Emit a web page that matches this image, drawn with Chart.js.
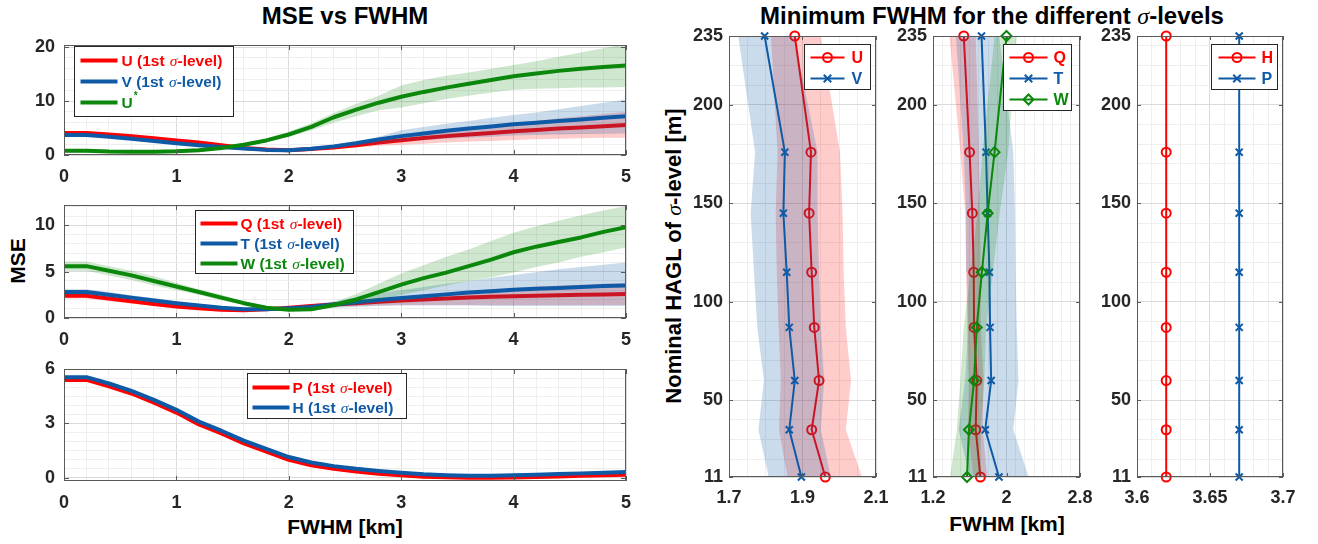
<!DOCTYPE html>
<html>
<head>
<meta charset="utf-8">
<script src="https://cdn.jsdelivr.net/npm/chart.js@4.4.1/dist/chart.umd.min.js"></script>
<style>
  html, body { margin: 0; padding: 0; background: #fff; }
  body { width: 1318px; height: 544px; position: relative; overflow: hidden;
         font-family: "Liberation Sans", Arial, Helvetica, sans-serif; }
  canvas { position: absolute; }
  .lbl { position: absolute; font-weight: bold; color: #000; white-space: nowrap;
         transform: translate(-50%, -50%); line-height: 1; }
  .rot { transform: translate(-50%, -50%) rotate(-90deg); }
  .sig { font-family: "Liberation Serif", "DejaVu Serif", serif; font-style: italic; font-weight: normal; }
</style>
</head>
<body>
<div class="lbl" style="left:345px;top:16px;font-size:24px;">MSE vs FWHM</div>
<div class="lbl" style="left:992px;top:16px;font-size:24px;">Minimum FWHM for the different <span class="sig">σ</span>-levels</div>
<div class="lbl rot" style="left:17px;top:261px;font-size:21px;">MSE</div>
<div class="lbl" style="left:345px;top:526px;font-size:21px;">FWHM [km]</div>
<div class="lbl" style="left:1007px;top:523px;font-size:21px;">FWHM [km]</div>
<div class="lbl rot" style="left:674px;top:256px;font-size:22px;">Nominal HAGL of <span class="sig">σ</span>-level [m]</div>

<script>
// ---------- MSE as a function of the smoothing FWHM [km] ----------
const fwhm = [0, 0.2, 0.4, 0.6, 0.8, 1.0, 1.2, 1.4, 1.6, 1.8, 2.0, 2.2, 2.4,
              2.6, 2.8, 3.0, 3.2, 3.4, 3.6, 3.8, 4.0, 4.2, 4.4, 4.6, 4.8, 5.0];

// U, V and U* (top panel)
const mseU    = [4.1, 4.1, 3.8, 3.5, 3.1, 2.7, 2.3, 1.8, 1.3, 1.0, 0.9, 1.1, 1.4, 1.8, 2.3, 2.75, 3.15, 3.5, 3.8, 4.1, 4.4, 4.65, 4.9, 5.1, 5.35, 5.55];
const mseUHi  = [4.4, 4.4, 4.1, 3.75, 3.35, 2.9, 2.5, 1.95, 1.45, 1.1, 1.0, 1.25, 1.65, 2.1, 2.7, 3.4, 3.9, 4.4, 4.9, 5.4, 5.9, 6.3, 6.8, 7.2, 7.6, 8.0];
const mseULo  = [3.8, 3.8, 3.5, 3.25, 2.85, 2.5, 2.1, 1.65, 1.15, 0.9, 0.8, 0.95, 1.15, 1.4, 1.7, 1.9, 2.1, 2.3, 2.5, 2.6, 2.8, 2.9, 3.0, 3.1, 3.2, 3.2];
const mseV    = [3.7, 3.7, 3.4, 3.0, 2.6, 2.2, 1.8, 1.5, 1.2, 0.95, 0.9, 1.15, 1.6, 2.2, 2.9, 3.5, 4.0, 4.5, 4.9, 5.3, 5.7, 6.0, 6.3, 6.6, 6.9, 7.2];
const mseVHi  = [4.0, 4.0, 3.65, 3.25, 2.8, 2.4, 1.95, 1.6, 1.3, 1.05, 1.0, 1.35, 1.9, 2.6, 3.4, 4.6, 5.2, 5.8, 6.3, 6.9, 7.4, 7.9, 8.5, 9.1, 9.7, 10.3];
const mseVLo  = [3.4, 3.4, 3.15, 2.75, 2.4, 2.0, 1.65, 1.4, 1.1, 0.85, 0.8, 1.0, 1.3, 1.7, 2.1, 2.5, 2.8, 3.0, 3.2, 3.4, 3.6, 3.7, 3.8, 3.9, 4.0, 4.1];
const mseUs   = [0.8, 0.8, 0.65, 0.6, 0.6, 0.7, 0.9, 1.3, 1.9, 2.7, 3.8, 5.2, 7.0, 8.4, 9.7, 10.8, 11.7, 12.5, 13.2, 13.9, 14.6, 15.1, 15.6, 16.0, 16.3, 16.6];
const mseUsHi = [1.1, 1.1, 0.95, 0.9, 0.9, 1.0, 1.2, 1.6, 2.2, 3.1, 4.3, 5.9, 7.8, 9.5, 11.0, 12.9, 13.9, 14.7, 15.3, 16.0, 16.7, 17.4, 18.2, 19.0, 19.8, 20.6];
const mseUsLo = [0.5, 0.5, 0.35, 0.3, 0.3, 0.4, 0.6, 1.0, 1.6, 2.4, 3.4, 4.6, 6.0, 7.2, 8.3, 8.8, 9.6, 10.4, 11.0, 11.6, 12.1, 12.3, 12.4, 12.5, 12.5, 12.6];

// Q, T and W (middle panel)
const mseQ    = [2.4, 2.4, 2.1, 1.8, 1.5, 1.25, 1.05, 0.9, 0.85, 0.95, 1.1, 1.3, 1.45, 1.6, 1.75, 1.9, 2.0, 2.1, 2.2, 2.3, 2.35, 2.4, 2.45, 2.5, 2.55, 2.6];
const mseQHi  = [2.7, 2.7, 2.4, 2.05, 1.75, 1.45, 1.2, 1.0, 0.95, 1.05, 1.25, 1.5, 1.7, 1.9, 2.1, 2.3, 2.5, 2.7, 2.9, 3.1, 3.25, 3.4, 3.5, 3.6, 3.7, 3.8];
const mseQLo  = [2.1, 2.1, 1.8, 1.55, 1.3, 1.05, 0.9, 0.8, 0.75, 0.85, 0.95, 1.1, 1.2, 1.3, 1.35, 1.4, 1.4, 1.4, 1.4, 1.4, 1.4, 1.4, 1.4, 1.4, 1.4, 1.4];
const mseT    = [2.8, 2.8, 2.5, 2.2, 1.9, 1.6, 1.35, 1.1, 0.95, 0.95, 1.05, 1.2, 1.45, 1.7, 1.95, 2.15, 2.35, 2.55, 2.75, 2.9, 3.05, 3.15, 3.25, 3.35, 3.45, 3.5];
const mseTHi  = [3.1, 3.1, 2.8, 2.45, 2.15, 1.8, 1.5, 1.25, 1.05, 1.05, 1.2, 1.45, 1.8, 2.2, 2.65, 3.0, 3.35, 3.7, 4.0, 4.35, 4.65, 4.95, 5.25, 5.5, 5.75, 6.0];
const mseTLo  = [2.5, 2.5, 2.25, 1.95, 1.65, 1.4, 1.2, 0.95, 0.85, 0.85, 0.9, 1.0, 1.1, 1.2, 1.3, 1.35, 1.35, 1.35, 1.35, 1.3, 1.3, 1.3, 1.3, 1.3, 1.3, 1.3];
const mseW    = [5.6, 5.6, 5.1, 4.6, 4.0, 3.4, 2.8, 2.2, 1.6, 1.1, 0.9, 0.95, 1.4, 2.0, 2.8, 3.6, 4.3, 4.9, 5.6, 6.3, 7.1, 7.7, 8.2, 8.7, 9.3, 9.8];
const mseWHi  = [6.1, 6.1, 5.6, 5.1, 4.5, 3.8, 3.1, 2.5, 1.8, 1.2, 1.0, 1.1, 1.7, 2.6, 3.7, 4.8, 5.7, 6.6, 7.4, 8.3, 9.2, 9.9, 10.5, 11.1, 11.6, 12.1];
const mseWLo  = [5.1, 5.1, 4.6, 4.1, 3.5, 3.0, 2.5, 1.9, 1.4, 1.0, 0.8, 0.8, 1.1, 1.5, 2.0, 2.5, 3.0, 3.5, 4.0, 4.4, 4.9, 5.5, 6.0, 6.6, 7.1, 7.6];

// P and H (bottom panel)
const mseP    = [5.4, 5.4, 5.05, 4.65, 4.15, 3.6, 2.95, 2.45, 1.9, 1.45, 1.0, 0.7, 0.5, 0.35, 0.23, 0.14, 0.07, 0.03, 0.01, 0.01, 0.02, 0.05, 0.08, 0.12, 0.15, 0.18];
const mseH    = [5.55, 5.55, 5.2, 4.8, 4.3, 3.75, 3.1, 2.6, 2.05, 1.6, 1.15, 0.85, 0.65, 0.5, 0.38, 0.28, 0.2, 0.15, 0.12, 0.12, 0.14, 0.17, 0.21, 0.25, 0.29, 0.33];

// ---------- Minimum FWHM [km] per sigma-level ----------
const levels = [11, 35, 60, 87, 115, 145, 176, 235];   // nominal HAGL [m]

const minU   = [1.962, 1.925, 1.945, 1.932, 1.925, 1.918, 1.923, 1.879];
const minUHi = [2.062, 2.018, 2.032, 2.018, 2.012, 2.009, 2.002, 1.950];
const minULo = [1.859, 1.836, 1.841, 1.835, 1.830, 1.827, 1.832, 1.814];
const minV   = [1.897, 1.864, 1.879, 1.864, 1.857, 1.848, 1.852, 1.797];
const minVHi = [1.977, 1.950, 1.959, 1.950, 1.945, 1.941, 1.941, 1.877];
const minVLo = [1.808, 1.780, 1.795, 1.777, 1.768, 1.759, 1.771, 1.725];

const minQ   = [1.716, 1.665, 1.676, 1.647, 1.643, 1.628, 1.598, 1.535];
const minQHi = [1.790, 1.740, 1.750, 1.720, 1.720, 1.710, 1.700, 1.665];
const minQLo = [1.640, 1.580, 1.590, 1.572, 1.560, 1.550, 1.498, 1.379];
const minT   = [1.918, 1.769, 1.833, 1.821, 1.814, 1.795, 1.777, 1.728];
const minTHi = [2.240, 2.074, 2.130, 2.112, 2.100, 2.093, 2.074, 1.920];
const minTLo = [1.600, 1.479, 1.550, 1.583, 1.570, 1.560, 1.535, 1.449];
const minW   = [1.570, 1.591, 1.647, 1.676, 1.732, 1.795, 1.870, 2.000];
const minWHi = [1.720, 1.720, 1.758, 1.777, 1.851, 1.926, 2.018, 2.112];
const minWLo = [1.386, 1.460, 1.498, 1.535, 1.609, 1.684, 1.740, 1.870];

const minH   = [3.62, 3.62, 3.62, 3.62, 3.62, 3.62, 3.62, 3.62];
const minP   = [3.67, 3.67, 3.67, 3.67, 3.67, 3.67, 3.67, 3.67];

// ---------- axis ticks ----------
const fwhmTicks   = [0, 1, 2, 3, 4, 5];
const mseTicksUV  = [0, 10, 20];
const mseTicksQTW = [0, 5, 10];
const mseTicksPH  = [0, 3, 6];
const levelTicks  = [11, 50, 100, 150, 200, 235];
const minTicksUV  = [1.7, 1.9, 2.1];
const minTicksQTW = [1.2, 2, 2.8];
const minTicksHP  = [3.6, 3.65, 3.7];

// ---------- styling ----------
const RED = '#ff0000', BLUE = '#0f5aa6', GREEN = '#0b870b';
const RED_A = 'rgba(255,0,0,0.2)', BLUE_A = 'rgba(15,90,166,0.22)', GREEN_A = 'rgba(11,135,11,0.2)';
const TICK_FONT = { family: '"Liberation Sans", Arial, Helvetica, sans-serif', size: 18, weight: 'bold' };
const TICK_COLOR = '#262626';

// ---------- helpers ----------
const pts  = (xs, ys) => xs.map((x, i) => ({ x, y: ys[i] }));
const hband = (xs, lo, hi) => pts(xs, hi).concat(pts(xs, lo).reverse());
const vband = (lo, hi, ys) => pts(lo, ys).concat(pts(hi, ys).reverse());

// Lower "order" is painted later (on top). Each series paints its band, then its line,
// series after series, so a later band tints the earlier lines.
function curve(label, data, color, width, order, extra) {
  return Object.assign({ label, data, borderColor: color, backgroundColor: color, borderWidth: width,
    showLine: true, pointRadius: 0, fill: false, order, borderJoinStyle: 'round' }, extra || {});
}
function area(data, color, order) {
  return { label: '', data, showLine: true, borderWidth: 0, borderColor: 'rgba(0,0,0,0)',
    backgroundColor: color, pointRadius: 0, fill: 'shape', order, inLegend: false };
}

function axis(pos, min, max, step, majors, padding, fitSize) {
  const near = (a, b) => Math.abs(a - b) < 1e-7;
  const isMajor = v => majors.some(m => near(m, v));
  return {
    type: 'linear', position: pos, min, max,
    afterBuildTicks: s => {
      const vals = majors.slice();
      for (let v = Math.ceil(min / step - 1e-9) * step; v <= max + 1e-9; v += step) {
        const r = +v.toFixed(6);
        if (!vals.some(m => near(m, r))) vals.push(r);
      }
      vals.sort((a, b) => a - b);
      s.ticks = vals.map(value => ({ value }));
    },
    afterFit: s => { if (pos === 'left') s.width = fitSize; else s.height = fitSize; },
    ticks: { autoSkip: false, maxRotation: 0, padding, color: TICK_COLOR, font: TICK_FONT,
             callback: v => isMajor(v) ? String(majors.find(m => near(m, v))) : '' },
    grid: { drawTicks: false, color: c => (c.tick && isMajor(c.tick.value)) ? '#dadada' : '#eeeeee', lineWidth: 1 },
    border: { display: false },
    _majors: majors
  };
}

// Axes box with inward tick marks on all four sides
const framePlugin = {
  id: 'frame',
  afterDatasetsDraw(chart, args, opts) {
    const { ctx, chartArea: a, scales } = chart;
    ctx.save();
    ctx.strokeStyle = '#5a5a5a';
    ctx.lineWidth = 1;
    ctx.strokeRect(Math.round(a.left) + 0.5, Math.round(a.top) + 0.5,
                   Math.round(a.right - a.left) - 1, Math.round(a.bottom - a.top) - 1);
    const L = opts.tick || 5;
    ctx.beginPath();
    scales.x.options._majors.forEach(m => {
      const px = Math.round(scales.x.getPixelForValue(m)) + 0.5;
      ctx.moveTo(px, a.bottom); ctx.lineTo(px, a.bottom - L);
      ctx.moveTo(px, a.top); ctx.lineTo(px, a.top + L);
    });
    scales.y.options._majors.forEach(m => {
      const py = Math.round(scales.y.getPixelForValue(m)) + 0.5;
      ctx.moveTo(a.left, py); ctx.lineTo(a.left + L, py);
      ctx.moveTo(a.right, py); ctx.lineTo(a.right - L, py);
    });
    ctx.stroke();
    ctx.restore();
  }
};

function drawMarker(ctx, style, x, y, r, color, lw) {
  ctx.save();
  ctx.strokeStyle = color; ctx.lineWidth = lw;
  ctx.beginPath();
  if (style === 'circle') { ctx.arc(x, y, r, 0, Math.PI * 2); }
  else if (style === 'crossRot') { const d = r * 0.75; ctx.moveTo(x - d, y - d); ctx.lineTo(x + d, y + d); ctx.moveTo(x + d, y - d); ctx.lineTo(x - d, y + d); }
  else if (style === 'rectRot') { ctx.moveTo(x, y - r); ctx.lineTo(x + r, y); ctx.lineTo(x, y + r); ctx.lineTo(x - r, y); ctx.closePath(); }
  ctx.stroke();
  ctx.restore();
}

// Boxed legend drawn inside the plot area, text coloured like its line
const boxLegendPlugin = {
  id: 'boxLegend',
  afterDraw(chart, args, o) {
    if (!o || !o.w) return;
    const { ctx, chartArea: a } = chart;
    const bx = Math.round(a.left + o.x) + 0.5, by = Math.round(a.top + o.y) + 0.5;
    ctx.save();
    ctx.fillStyle = '#fff';
    ctx.fillRect(bx, by, o.w, o.h);
    ctx.strokeStyle = '#262626'; ctx.lineWidth = 1;
    ctx.strokeRect(bx, by, o.w, o.h);
    const items = chart.data.datasets.filter(d => d.inLegend !== false);
    items.sort((p, q) => (p.legendIndex || 0) - (q.legendIndex || 0));
    const bold = sz => `bold ${sz}px "Liberation Sans", Arial, sans-serif`;
    items.forEach((d, i) => {
      const y = by + o.rows[i];
      ctx.strokeStyle = d.borderColor; ctx.lineWidth = o.lineWidth || d.borderWidth;
      ctx.beginPath(); ctx.moveTo(bx + o.x0, y); ctx.lineTo(bx + o.x1, y); ctx.stroke();
      if (d.pointStyle && d.pointRadius > 0) drawMarker(ctx, d.pointStyle, bx + (o.x0 + o.x1) / 2, y, d.pointRadius, d.borderColor, d.pointBorderWidth || 2);
      let x = bx + o.tx;
      ctx.fillStyle = d.borderColor;
      ctx.textBaseline = 'middle'; ctx.textAlign = 'left';
      const parts = d.label.split('σ');
      parts.forEach((p, k) => {
        let txt = p, star = false;
        if (txt.endsWith('*')) { txt = txt.slice(0, -1); star = true; }
        ctx.font = bold(o.size);
        ctx.fillText(txt, x, y + 1); x += ctx.measureText(txt).width;
        if (star) { ctx.font = bold(Math.round(o.size * 0.62)); ctx.fillText('*', x + 1, y - o.size * 0.42); x += ctx.measureText('*').width + 1; }
        if (k < parts.length - 1) {
          ctx.font = `italic ${o.size}px "Liberation Serif", "DejaVu Serif", serif`;
          ctx.fillText('σ', x + 1, y + 1); x += ctx.measureText('σ').width + 1;
        }
      });
    });
    ctx.restore();
  }
};

function makeChart(rect, pad, xAx, yAx, datasets, legend, tickLen) {
  const c = document.createElement('canvas');
  c.width = rect.w + pad.l + pad.r;
  c.height = rect.h + pad.t + pad.b;
  c.style.left = (rect.x - pad.l) + 'px';
  c.style.top = (rect.y - pad.t) + 'px';
  document.body.appendChild(c);
  return new Chart(c, {
    type: 'scatter',
    data: { datasets },
    options: {
      responsive: false, animation: false, devicePixelRatio: 1, events: [],
      layout: { padding: { top: pad.t, right: pad.r, left: 0, bottom: 0 } },
      scales: { x: xAx, y: yAx },
      plugins: { legend: { display: false }, tooltip: { enabled: false },
                 boxLegend: legend, frame: { tick: tickLen } }
    },
    plugins: [framePlugin, boxLegendPlugin]
  });
}

// ---------- left column: MSE vs FWHM ----------
const padL = { l: 56, t: 24, r: 26, b: 34 };
const xFwhm = () => axis('bottom', 0, 5, 0.2, fwhmTicks, 11, padL.b);

makeChart({ x: 64, y: 45, w: 562, h: 110 }, padL, xFwhm(), axis('left', 0, 20.4, 2, mseTicksUV, 9, padL.l), [
  area(hband(fwhm, mseULo, mseUHi), RED_A, 6),
  curve('U (1st σ-level)', pts(fwhm, mseU), RED, 4, 5, { legendIndex: 0 }),
  area(hband(fwhm, mseVLo, mseVHi), BLUE_A, 4),
  curve('V (1st σ-level)', pts(fwhm, mseV), BLUE, 4, 3, { legendIndex: 1 }),
  area(hband(fwhm, mseUsLo, mseUsHi), GREEN_A, 2),
  curve('U*', pts(fwhm, mseUs), GREEN, 4, 1, { legendIndex: 2 })
], { x: 10, y: 1, w: 159, h: 70, rows: [14, 35, 56], x0: 6, x1: 43, tx: 47, size: 15.5 }, 5);

makeChart({ x: 64, y: 205, w: 562, h: 113 }, padL, xFwhm(), axis('left', 0, 12.2, 1, mseTicksQTW, 9, padL.l), [
  area(hband(fwhm, mseQLo, mseQHi), RED_A, 6),
  curve('Q (1st σ-level)', pts(fwhm, mseQ), RED, 4, 5, { legendIndex: 0 }),
  area(hband(fwhm, mseTLo, mseTHi), BLUE_A, 4),
  curve('T (1st σ-level)', pts(fwhm, mseT), BLUE, 4, 3, { legendIndex: 1 }),
  area(hband(fwhm, mseWLo, mseWHi), GREEN_A, 2),
  curve('W (1st σ-level)', pts(fwhm, mseW), GREEN, 4, 1, { legendIndex: 2 })
], { x: 131, y: 5, w: 158, h: 63, rows: [13, 33, 53], x0: 5, x1: 42, tx: 45, size: 15.5 }, 5);

makeChart({ x: 64, y: 369, w: 562, h: 112 }, padL, xFwhm(), axis('left', -0.17, 6, 0.5, mseTicksPH, 9, padL.l), [
  curve('P (1st σ-level)', pts(fwhm, mseP), RED, 4, 2, { legendIndex: 0 }),
  curve('H (1st σ-level)', pts(fwhm, mseH), BLUE, 4, 1, { legendIndex: 1 })
], { x: 183, y: 4, w: 159, h: 45, rows: [14, 34], x0: 5, x1: 42, tx: 45, size: 15.5 }, 5);

// ---------- right block: minimum FWHM per sigma-level ----------
const padR = { l: 48, t: 22, r: 28, b: 34 };
const yLev = () => axis('left', 11, 235, 10, levelTicks, 6, padR.l);
// markers at the lowest and highest level sit on the box edge and stay whole
const mk = (style) => Object.assign({ clip: false }, style === 'circle'
  ? { pointStyle: 'circle', pointRadius: 4.5, pointBorderWidth: 2, pointBackgroundColor: 'rgba(0,0,0,0)' }
  : style === 'crossRot'
  ? { pointStyle: 'crossRot', pointRadius: 5, pointBorderWidth: 2 }
  : { pointStyle: 'rectRot', pointRadius: 5, pointBorderWidth: 2, pointBackgroundColor: 'rgba(0,0,0,0)' });

makeChart({ x: 729, y: 36, w: 147, h: 441 }, padR, axis('bottom', 1.7, 2.1, 0.05, minTicksUV, 10, padR.b), yLev(), [
  area(vband(minULo, minUHi, levels), RED_A, 4),
  curve('U', pts(minU, levels), RED, 2, 3, Object.assign({ legendIndex: 0 }, mk('circle'))),
  area(vband(minVLo, minVHi, levels), BLUE_A, 2),
  curve('V', pts(minV, levels), BLUE, 2, 1, Object.assign({ legendIndex: 1 }, mk('crossRot')))
], { x: 75, y: 8, w: 66, h: 45, rows: [13, 34], x0: 6, x1: 40, tx: 47, size: 16 }, 4);

makeChart({ x: 933, y: 36, w: 147, h: 441 }, padR, axis('bottom', 1.2, 2.8, 0.1, minTicksQTW, 10, padR.b), yLev(), [
  area(vband(minQLo, minQHi, levels), RED_A, 6),
  curve('Q', pts(minQ, levels), RED, 2, 5, Object.assign({ legendIndex: 0 }, mk('circle'))),
  area(vband(minTLo, minTHi, levels), BLUE_A, 4),
  curve('T', pts(minT, levels), BLUE, 2, 3, Object.assign({ legendIndex: 1 }, mk('crossRot'))),
  area(vband(minWLo, minWHi, levels), GREEN_A, 2),
  curve('W', pts(minW, levels), GREEN, 2, 1, Object.assign({ legendIndex: 2 }, mk('rectRot')))
], { x: 70, y: 8, w: 68, h: 66, rows: [13, 34, 55], x0: 6, x1: 44, tx: 50, size: 16 }, 4);

makeChart({ x: 1137, y: 36, w: 146, h: 441 }, padR, axis('bottom', 3.6, 3.7, 0.01, minTicksHP, 10, padR.b), yLev(), [
  curve('H', pts(minH, levels), RED, 2, 2, Object.assign({ legendIndex: 0 }, mk('circle'))),
  curve('P', pts(minP, levels), BLUE, 2, 1, Object.assign({ legendIndex: 1 }, mk('crossRot')))
], { x: 74, y: 8, w: 66, h: 45, rows: [13, 34], x0: 7, x1: 44, tx: 50, size: 16 }, 4);
</script>
</body>
</html>
